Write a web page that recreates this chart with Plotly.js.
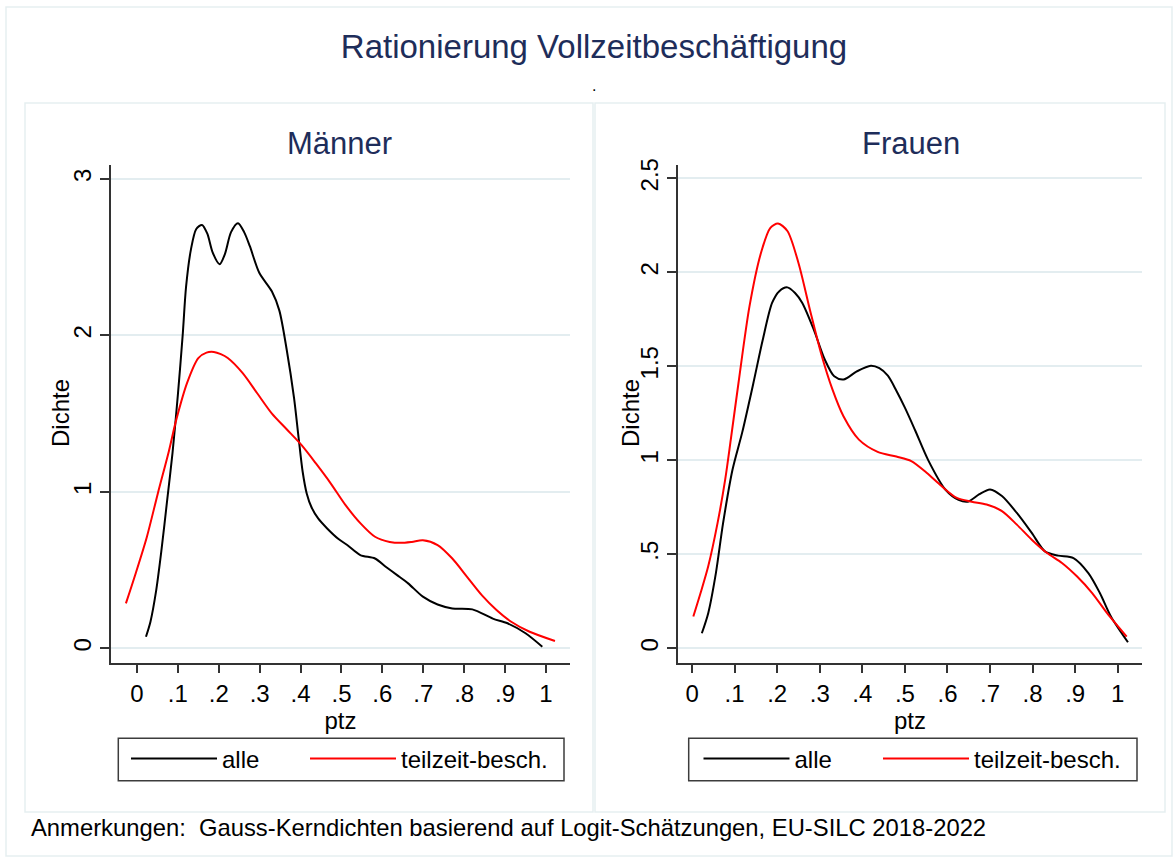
<!DOCTYPE html>
<html>
<head>
<meta charset="utf-8">
<script src="https://cdn.plot.ly/plotly-3.0.1.min.js"></script>
<style>html,body{margin:0;padding:0;background:#fff}#chart{width:1176px;height:860px}</style>
</head>
<body>
<div id="chart"></div>
<script>
// ---- data ----
const xTickVals = [0, 0.1, 0.2, 0.3, 0.4, 0.5, 0.6, 0.7, 0.8, 0.9, 1];
const xTickText = ['0', '.1', '.2', '.3', '.4', '.5', '.6', '.7', '.8', '.9', '1'];
const yTickValsM = [0, 1, 2, 3];
const yTickTextM = ['0', '1', '2', '3'];
const yTickValsF = [0, 0.5, 1, 1.5, 2, 2.5];
const yTickTextF = ['0', '.5', '1', '1.5', '2', '2.5'];

const seriesNames = ['alle', 'teilzeit-besch.'];
const panelTitles = ['Männer', 'Frauen'];
const xTitle = 'ptz';
const yTitle = 'Dichte';

// Männer – alle
const menAlleX = [0.022,0.033,0.047,0.060,0.074,0.087,0.100,0.112,0.120,0.132,0.145,0.159,0.172,0.185,0.202,0.215,0.230,0.247,0.262,0.276,0.299,0.330,0.348,0.366,0.384,0.395,0.405,0.415,0.427,0.443,0.465,0.492,0.514,0.546,0.582,0.609,0.636,0.663,0.699,0.735,0.771,0.820,0.870,0.906,0.950,0.991];
const menAlleY = [0.074,0.17,0.37,0.63,0.95,1.25,1.62,2.01,2.31,2.55,2.68,2.706,2.65,2.53,2.455,2.52,2.66,2.717,2.66,2.57,2.40,2.28,2.16,1.91,1.60,1.35,1.13,0.99,0.90,0.83,0.766,0.70,0.66,0.596,0.574,0.52,0.468,0.415,0.33,0.28,0.255,0.249,0.19,0.16,0.096,0.01];
// Männer – teilzeit-besch.
const menTeilX = [-0.027,-0.003,0.024,0.051,0.078,0.096,0.123,0.150,0.170,0.188,0.205,0.222,0.258,0.294,0.330,0.366,0.402,0.438,0.474,0.510,0.546,0.582,0.618,0.645,0.672,0.699,0.735,0.771,0.807,0.843,0.879,0.915,0.960,1.022];
const menTeilY = [0.287,0.48,0.71,0.99,1.26,1.46,1.70,1.855,1.89,1.894,1.88,1.855,1.76,1.63,1.50,1.40,1.30,1.18,1.053,0.915,0.80,0.713,0.68,0.674,0.68,0.69,0.66,0.574,0.457,0.34,0.245,0.17,0.106,0.047];
// Frauen – alle
const womAlleX = [0.023,0.038,0.056,0.073,0.095,0.118,0.144,0.166,0.188,0.205,0.224,0.242,0.259,0.286,0.312,0.334,0.356,0.387,0.420,0.440,0.460,0.480,0.500,0.524,0.555,0.595,0.626,0.648,0.675,0.700,0.728,0.763,0.798,0.829,0.860,0.896,0.931,0.958,0.984,1.024];
const womAlleY = [0.08,0.187,0.40,0.667,0.95,1.15,1.41,1.64,1.837,1.90,1.92,1.89,1.837,1.695,1.535,1.447,1.43,1.473,1.503,1.49,1.45,1.37,1.28,1.16,1.00,0.845,0.79,0.78,0.82,0.845,0.81,0.72,0.614,0.516,0.493,0.48,0.40,0.294,0.169,0.032];
// Frauen – teilzeit-besch.
const womTeilX = [0.003,0.020,0.038,0.060,0.078,0.091,0.109,0.135,0.162,0.184,0.202,0.224,0.250,0.277,0.303,0.330,0.356,0.392,0.436,0.480,0.515,0.551,0.586,0.622,0.657,0.692,0.728,0.763,0.798,0.834,0.869,0.904,0.940,0.975,1.021];
const womTeilY = [0.169,0.294,0.436,0.667,0.90,1.11,1.41,1.82,2.104,2.237,2.26,2.22,2.05,1.80,1.57,1.376,1.233,1.11,1.045,1.02,0.996,0.934,0.863,0.80,0.78,0.765,0.73,0.658,0.578,0.507,0.454,0.383,0.294,0.187,0.062];

// ---- styling / layout ----
const W = 1176, H = 860;
const px = v => v / W;
const py = v => 1 - v / H;
const FONT = 'Liberation Sans, Arial, Helvetica, sans-serif';
const NAVY = '#1e2d5a';
const GRID = '#e3edf0';
const AX = '#333333';
const FRAME = '#e6eff1';
const TXT = 24;

function line(x, y, name, color, xa, ya, lg) {
  return {x: x, y: y, name: name, type: 'scatter', mode: 'lines',
    line: {color: color, width: 2, shape: 'spline', smoothing: 0.8},
    xaxis: xa, yaxis: ya, legend: lg, hoverinfo: 'x+y'};
}

const data = [
  line(menAlleX, menAlleY, seriesNames[0], '#000000', 'x', 'y', 'legend'),
  line(menTeilX, menTeilY, seriesNames[1], '#ff0000', 'x', 'y', 'legend2'),
  line(womAlleX, womAlleY, seriesNames[0], '#000000', 'x2', 'y2', 'legend3'),
  line(womTeilX, womTeilY, seriesNames[1], '#ff0000', 'x2', 'y2', 'legend4')
];

function xAxis(domain, range, anchor) {
  return {domain: domain, range: range, anchor: anchor,
    tickmode: 'array', tickvals: xTickVals, ticktext: xTickText,
    ticks: 'outside', ticklen: 9, tickwidth: 1.5, tickcolor: AX,
    showline: true, linecolor: AX, linewidth: 1.5,
    showgrid: false, zeroline: false, fixedrange: true,
    tickfont: {family: FONT, size: TXT, color: '#000'},
    title: {text: xTitle, font: {family: FONT, size: TXT, color: '#000'}, standoff: 0}};
}
function yAxis(domain, range, vals, text, anchor) {
  return {domain: domain, range: range, anchor: anchor,
    tickmode: 'array', tickvals: vals, ticktext: text, tickangle: -90,
    ticks: 'outside', ticklen: 9, tickwidth: 1.5, tickcolor: AX,
    showline: true, linecolor: AX, linewidth: 1.5,
    showgrid: true, gridcolor: GRID, gridwidth: 1.5, zeroline: false, fixedrange: true,
    tickfont: {family: FONT, size: TXT, color: '#000'}};
}

const yDom = [py(662.7), py(165)];

function legendAt(xpx) {
  return {x: px(xpx), xanchor: 'left', y: py(759), yanchor: 'middle',
    orientation: 'h', borderwidth: 0, bgcolor: 'rgba(0,0,0,0)',
    itemwidth: 86, itemclick: false, itemdoubleclick: false,
    font: {family: FONT, size: TXT, color: '#000'}};
}

function rect(x0, y0, x1, y1, color, w) {
  return {type: 'rect', xref: 'paper', yref: 'paper', x0: px(x0), x1: px(x1), y0: py(y1), y1: py(y0),
    line: {color: color, width: w}, fillcolor: 'rgba(0,0,0,0)', layer: 'below'};
}

function yTitleAnn(xpx) {
  return {text: yTitle, xref: 'paper', yref: 'paper', x: px(xpx), y: py(413), xanchor: 'center', yanchor: 'middle',
    textangle: -90, showarrow: false, font: {family: FONT, size: TXT, color: '#000'}};
}

const layout = {
  width: W, height: H,
  margin: {l: 0, r: 0, t: 0, b: 0, pad: 0},
  paper_bgcolor: '#ffffff', plot_bgcolor: '#ffffff',
  font: {family: FONT, color: '#000'},
  showlegend: true,
  title: {text: 'Rationierung Vollzeitbeschäftigung', x: px(594), xanchor: 'center',
    y: py(46), yanchor: 'middle', font: {family: FONT, size: 33, color: NAVY}},
  xaxis: xAxis([px(111.2), px(569.7)], [-0.063, 1.058], 'y'),
  yaxis: yAxis(yDom, [-0.092, 3.089], yTickValsM, yTickTextM, 'x'),
  xaxis2: xAxis([px(678), px(1142)], [-0.033, 1.057], 'y2'),
  yaxis2: yAxis(yDom, [-0.0765, 2.571], yTickValsF, yTickTextF, 'x2'),
  legend: legendAt(126),
  legend2: legendAt(305),
  legend3: legendAt(698.5),
  legend4: legendAt(878),
  shapes: [
    rect(6, 7, 1172, 856, FRAME, 1.5),
    rect(25, 103, 593, 812, FRAME, 1.5),
    rect(595, 103, 1165, 812, FRAME, 1.5),
    {type: 'rect', xref: 'paper', yref: 'paper', x0: px(118.3), x1: px(564), y0: py(780.7), y1: py(738.3),
      line: {color: '#3c3c3c', width: 1.5}, fillcolor: 'rgba(0,0,0,0)'},
    {type: 'rect', xref: 'paper', yref: 'paper', x0: px(688.7), x1: px(1137), y0: py(780.7), y1: py(738.3),
      line: {color: '#3c3c3c', width: 1.5}, fillcolor: 'rgba(0,0,0,0)'}
  ],
  annotations: [
    {text: '.', xref: 'paper', yref: 'paper', x: px(594), y: py(86), xanchor: 'center', yanchor: 'middle',
      showarrow: false, font: {family: FONT, size: 16, color: '#000'}},
    {text: panelTitles[0], xref: 'paper', yref: 'paper', x: px(339), y: py(143), xanchor: 'center', yanchor: 'middle',
      showarrow: false, font: {family: FONT, size: 31, color: NAVY}},
    {text: panelTitles[1], xref: 'paper', yref: 'paper', x: px(911), y: py(143), xanchor: 'center', yanchor: 'middle',
      showarrow: false, font: {family: FONT, size: 31, color: NAVY}},
    yTitleAnn(61),
    yTitleAnn(631),
    {text: 'Anmerkungen:  Gauss-Kerndichten basierend auf Logit-Schätzungen, EU-SILC 2018-2022',
      xref: 'paper', yref: 'paper', x: px(29), y: py(827), xanchor: 'left', yanchor: 'middle',
      showarrow: false, font: {family: FONT, size: 23.8, color: '#000'}}
  ]
};

Plotly.newPlot('chart', data, layout, {displayModeBar: false, staticPlot: false, responsive: false});
</script>
</body>
</html>
